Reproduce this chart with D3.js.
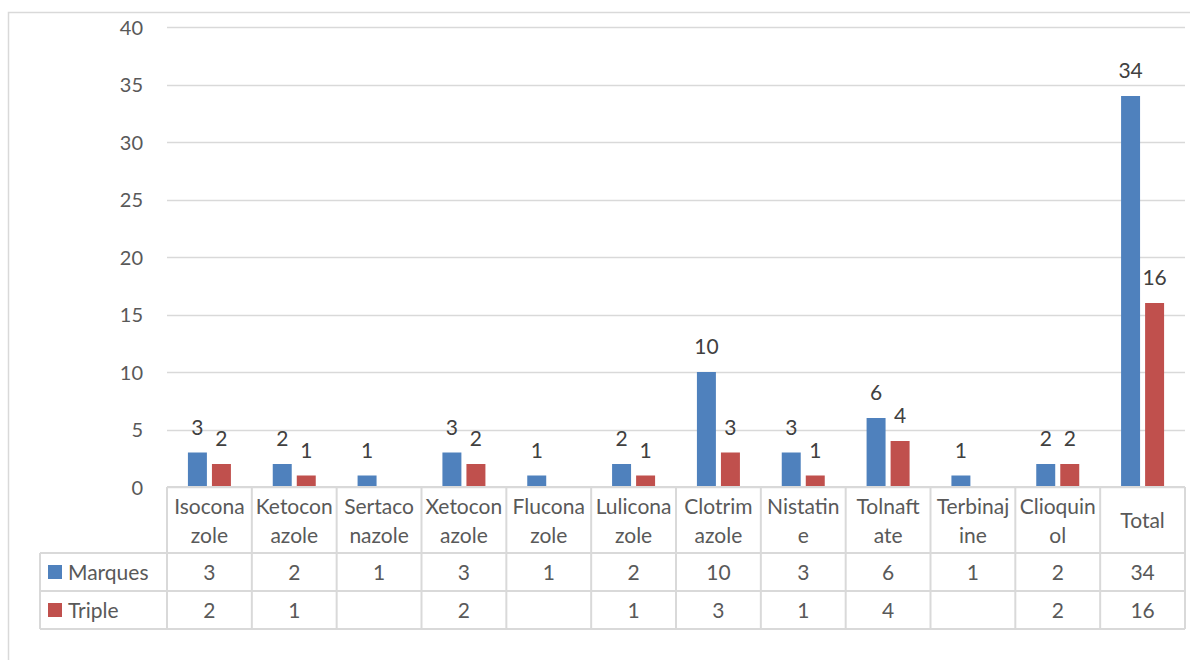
<!DOCTYPE html>
<html><head><meta charset="utf-8">
<script src="https://cdn.jsdelivr.net/npm/d3@7"></script>
<style>body{margin:0;background:#fff}svg{display:block;font-family:Lato,"Open Sans",sans-serif}</style>
</head><body><svg id="c" width="1190" height="660"></svg>
<script>
const categories = ["Isoconazole","Ketoconazole","Sertaconazole","Xetoconazole","Fluconazole","Luliconazole","Clotrimazole","Nistatine","Tolnaftate","Terbinajine","Clioquinol","Total"];
const categoryLines = [["Isocona","zole"],["Ketocon","azole"],["Sertaco","nazole"],["Xetocon","azole"],["Flucona","zole"],["Lulicona","zole"],["Clotrim","azole"],["Nistatin","e"],["Tolnaft","ate"],["Terbinaj","ine"],["Clioquin","ol"],["Total"]];
const seriesNames = ["Marques","Triple"];
const marques = [3,2,1,3,1,2,10,3,6,1,2,34];
const triple = [2,1,null,2,null,1,3,1,4,null,2,16];
const yTicks = [0,5,10,15,20,25,30,35,40];
const colors = ["#4f81bd","#c0504d"];

(function(){
const svg = d3.select("#c");
const pL = 167, pR = 1185, pT = 27, pB = 487;
const grid = "#d9d9d9", txt = "#595959", lbl = "#404040";

// frame
svg.append("path").attr("d","M8.5,660 V12.5 H1190").attr("fill","none").attr("stroke",grid).attr("stroke-width",1.5);

const x = d3.scaleBand().domain(categories).range([pL,pR]);
const y = d3.scaleLinear().domain([0,40]).range([pB,pT]);
const inner = d3.scaleBand().domain(seriesNames).range([0,43]).paddingInner(0.21);

// gridlines
svg.append("g").selectAll("line").data(yTicks).join("line")
  .attr("x1",pL).attr("x2",pR).attr("y1",d=>Math.round(y(d))+0.5).attr("y2",d=>Math.round(y(d))+0.5)
  .attr("stroke",grid).attr("stroke-width",1.5);

// y axis labels
const yAxis = d3.axisLeft(y).tickValues(yTicks).tickSize(0).tickPadding(0);
const ya = svg.append("g").attr("transform",`translate(${pL-24},0)`).call(yAxis);
ya.select(".domain").remove();
ya.selectAll("text").attr("font-size",20).attr("fill",txt).attr("font-family","Lato,sans-serif").attr("dy","0.35em");

const series = [marques, triple];
series.forEach((vals,si)=>{
  const g = svg.append("g");
  const data = categories.map((c,i)=>({c,v:vals[i]})).filter(d=>d.v!=null);
  const off = (x.bandwidth()-43)/2;
  g.selectAll("rect").data(data).join("rect")
    .attr("x",d=>x(d.c)+off+inner(seriesNames[si]))
    .attr("width",inner.bandwidth())
    .attr("y",d=>y(d.v)).attr("height",d=>y(0)-y(d.v))
    .attr("fill",colors[si]);
  g.selectAll("text").data(data).join("text")
    .attr("x",d=>x(d.c)+off+inner(seriesNames[si])+inner.bandwidth()/2)
    .attr("y",d=>y(d.v)-18)
    .attr("text-anchor","middle").attr("font-size",21).attr("fill",lbl)
    .text(d=>d.v);
});

// data table
const rowY = [487,553,591,629];
const tl = svg.append("g").attr("stroke",grid).attr("stroke-width",2);
tl.append("line").attr("x1",pL).attr("x2",pR).attr("y1",rowY[0]).attr("y2",rowY[0]);
[1,2,3].forEach(i=>tl.append("line").attr("x1",40).attr("x2",pR).attr("y1",rowY[i]).attr("y2",rowY[i]));
tl.append("line").attr("x1",40).attr("x2",40).attr("y1",rowY[1]).attr("y2",rowY[3]);
categories.forEach(c=>tl.append("line").attr("x1",x(c)).attr("x2",x(c)).attr("y1",rowY[0]).attr("y2",rowY[3]));
tl.append("line").attr("x1",pR).attr("x2",pR).attr("y1",rowY[0]).attr("y2",rowY[3]);

const hdr = svg.append("g");
categories.forEach((c,i)=>{
  const lines = categoryLines[i];
  const cx = x(c)+x.bandwidth()/2;
  const t = hdr.append("text").attr("text-anchor","middle").attr("font-size",21).attr("fill",txt);
  if(lines.length===1){
    t.append("tspan").attr("x",cx).attr("y",528).text(lines[0]);
  } else {
    lines.forEach((l,j)=>t.append("tspan").attr("x",cx).attr("y",514+j*29).text(l));
  }
});

series.forEach((vals,si)=>{
  const cy = (rowY[si+1]+rowY[si+2])/2;
  svg.append("rect").attr("x",48).attr("y",cy-7).attr("width",14).attr("height",14).attr("fill",colors[si]);
  svg.append("text").attr("x",68).attr("y",cy+7.5).attr("font-size",21).attr("fill",txt).text(seriesNames[si]);
  svg.append("g").selectAll("text").data(categories.map((c,i)=>({c,v:vals[i]})).filter(d=>d.v!=null)).join("text")
    .attr("x",d=>x(d.c)+x.bandwidth()/2).attr("y",cy+7.5)
    .attr("text-anchor","middle").attr("font-size",21).attr("fill",txt).text(d=>d.v);
});
})();
</script></body></html>
